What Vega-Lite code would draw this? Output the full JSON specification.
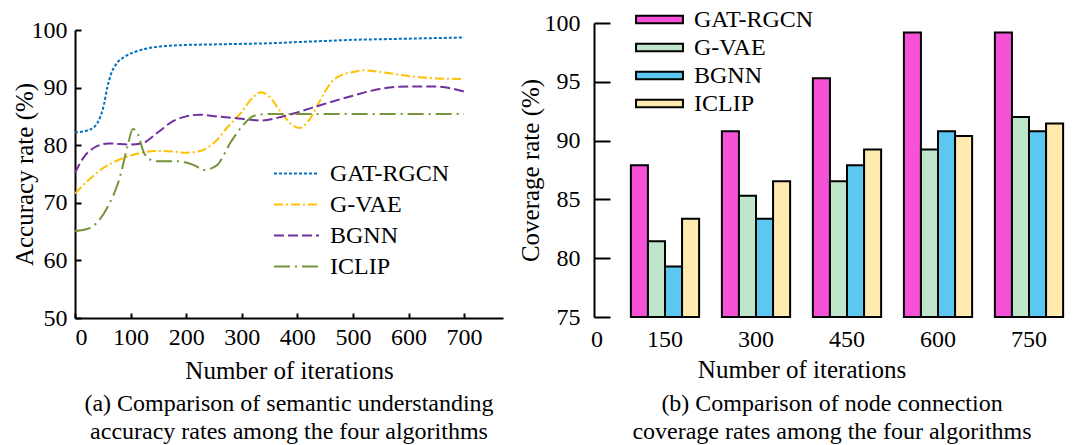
{
  "$schema": "https://vega.github.io/schema/vega-lite/v6.json",
  "padding": {"left": 12, "top": 7, "right": 0, "bottom": 0},
  "autosize": {"type": "pad"},
  "bounds": "flush",
  "spacing": 91,
  "resolve": {"legend": {"color": "independent", "strokeDash": "independent"}, "scale": {"color": "independent", "strokeDash": "independent"}},
  "datasets": {
    "lines": [
      {"alg": "GAT-RGCN", "it": 0, "v": 82.2},
      {"alg": "GAT-RGCN", "it": 20, "v": 82.5},
      {"alg": "GAT-RGCN", "it": 35, "v": 83.2},
      {"alg": "GAT-RGCN", "it": 45, "v": 84.8},
      {"alg": "GAT-RGCN", "it": 52, "v": 87.0},
      {"alg": "GAT-RGCN", "it": 58, "v": 90.0},
      {"alg": "GAT-RGCN", "it": 65, "v": 92.4},
      {"alg": "GAT-RGCN", "it": 75, "v": 94.2},
      {"alg": "GAT-RGCN", "it": 90, "v": 95.4},
      {"alg": "GAT-RGCN", "it": 105, "v": 96.1},
      {"alg": "GAT-RGCN", "it": 125, "v": 96.7},
      {"alg": "GAT-RGCN", "it": 150, "v": 97.1},
      {"alg": "GAT-RGCN", "it": 200, "v": 97.4},
      {"alg": "GAT-RGCN", "it": 250, "v": 97.5},
      {"alg": "GAT-RGCN", "it": 300, "v": 97.6},
      {"alg": "GAT-RGCN", "it": 350, "v": 97.7},
      {"alg": "GAT-RGCN", "it": 400, "v": 97.9},
      {"alg": "GAT-RGCN", "it": 450, "v": 98.1},
      {"alg": "GAT-RGCN", "it": 500, "v": 98.3},
      {"alg": "GAT-RGCN", "it": 550, "v": 98.4},
      {"alg": "GAT-RGCN", "it": 600, "v": 98.5},
      {"alg": "GAT-RGCN", "it": 650, "v": 98.6},
      {"alg": "GAT-RGCN", "it": 700, "v": 98.7},
      {"alg": "G-VAE", "it": 0, "v": 71.6},
      {"alg": "G-VAE", "it": 25, "v": 74.0},
      {"alg": "G-VAE", "it": 50, "v": 76.0},
      {"alg": "G-VAE", "it": 75, "v": 77.3},
      {"alg": "G-VAE", "it": 100, "v": 78.2},
      {"alg": "G-VAE", "it": 125, "v": 78.8},
      {"alg": "G-VAE", "it": 150, "v": 79.0},
      {"alg": "G-VAE", "it": 175, "v": 78.9},
      {"alg": "G-VAE", "it": 200, "v": 78.7},
      {"alg": "G-VAE", "it": 225, "v": 79.0},
      {"alg": "G-VAE", "it": 250, "v": 80.4},
      {"alg": "G-VAE", "it": 275, "v": 83.2},
      {"alg": "G-VAE", "it": 300, "v": 85.8},
      {"alg": "G-VAE", "it": 320, "v": 88.3},
      {"alg": "G-VAE", "it": 335, "v": 89.2},
      {"alg": "G-VAE", "it": 350, "v": 88.4},
      {"alg": "G-VAE", "it": 370, "v": 85.8},
      {"alg": "G-VAE", "it": 390, "v": 83.6},
      {"alg": "G-VAE", "it": 403, "v": 83.0},
      {"alg": "G-VAE", "it": 420, "v": 84.2},
      {"alg": "G-VAE", "it": 440, "v": 87.6},
      {"alg": "G-VAE", "it": 460, "v": 90.8},
      {"alg": "G-VAE", "it": 480, "v": 92.2},
      {"alg": "G-VAE", "it": 500, "v": 92.7},
      {"alg": "G-VAE", "it": 520, "v": 93.0},
      {"alg": "G-VAE", "it": 550, "v": 92.7},
      {"alg": "G-VAE", "it": 600, "v": 92.0},
      {"alg": "G-VAE", "it": 650, "v": 91.6},
      {"alg": "G-VAE", "it": 700, "v": 91.5},
      {"alg": "BGNN", "it": 0, "v": 75.2},
      {"alg": "BGNN", "it": 15, "v": 77.8},
      {"alg": "BGNN", "it": 35, "v": 79.6},
      {"alg": "BGNN", "it": 60, "v": 80.3},
      {"alg": "BGNN", "it": 100, "v": 80.1},
      {"alg": "BGNN", "it": 120, "v": 80.3},
      {"alg": "BGNN", "it": 150, "v": 82.3},
      {"alg": "BGNN", "it": 175, "v": 84.1},
      {"alg": "BGNN", "it": 200, "v": 85.0},
      {"alg": "BGNN", "it": 225, "v": 85.3},
      {"alg": "BGNN", "it": 255, "v": 85.0},
      {"alg": "BGNN", "it": 300, "v": 84.6},
      {"alg": "BGNN", "it": 335, "v": 84.3},
      {"alg": "BGNN", "it": 370, "v": 84.9},
      {"alg": "BGNN", "it": 400, "v": 85.7},
      {"alg": "BGNN", "it": 440, "v": 86.9},
      {"alg": "BGNN", "it": 500, "v": 88.6},
      {"alg": "BGNN", "it": 550, "v": 89.8},
      {"alg": "BGNN", "it": 600, "v": 90.2},
      {"alg": "BGNN", "it": 640, "v": 90.2},
      {"alg": "BGNN", "it": 675, "v": 89.9},
      {"alg": "BGNN", "it": 700, "v": 89.3},
      {"alg": "ICLIP", "it": 0, "v": 65.1},
      {"alg": "ICLIP", "it": 20, "v": 65.4},
      {"alg": "ICLIP", "it": 40, "v": 66.6},
      {"alg": "ICLIP", "it": 60, "v": 69.5},
      {"alg": "ICLIP", "it": 80, "v": 74.2},
      {"alg": "ICLIP", "it": 95, "v": 80.0},
      {"alg": "ICLIP", "it": 104, "v": 82.8},
      {"alg": "ICLIP", "it": 112, "v": 82.2},
      {"alg": "ICLIP", "it": 125, "v": 78.5},
      {"alg": "ICLIP", "it": 145, "v": 77.2},
      {"alg": "ICLIP", "it": 185, "v": 77.2},
      {"alg": "ICLIP", "it": 215, "v": 76.5},
      {"alg": "ICLIP", "it": 232, "v": 75.7},
      {"alg": "ICLIP", "it": 255, "v": 76.5},
      {"alg": "ICLIP", "it": 280, "v": 80.5},
      {"alg": "ICLIP", "it": 300, "v": 83.2},
      {"alg": "ICLIP", "it": 322, "v": 85.1},
      {"alg": "ICLIP", "it": 345, "v": 85.4},
      {"alg": "ICLIP", "it": 400, "v": 85.4},
      {"alg": "ICLIP", "it": 500, "v": 85.4},
      {"alg": "ICLIP", "it": 600, "v": 85.4},
      {"alg": "ICLIP", "it": 700, "v": 85.4}
    ],
    "bars": [
      {"it": "150", "alg": "GAT-RGCN", "v": 87.9},
      {"it": "150", "alg": "G-VAE", "v": 81.45},
      {"it": "150", "alg": "BGNN", "v": 79.3},
      {"it": "150", "alg": "ICLIP", "v": 83.35},
      {"it": "300", "alg": "GAT-RGCN", "v": 90.8},
      {"it": "300", "alg": "G-VAE", "v": 85.3},
      {"it": "300", "alg": "BGNN", "v": 83.35},
      {"it": "300", "alg": "ICLIP", "v": 86.55},
      {"it": "450", "alg": "GAT-RGCN", "v": 95.3},
      {"it": "450", "alg": "G-VAE", "v": 86.55},
      {"it": "450", "alg": "BGNN", "v": 87.9},
      {"it": "450", "alg": "ICLIP", "v": 89.25},
      {"it": "600", "alg": "GAT-RGCN", "v": 99.2},
      {"it": "600", "alg": "G-VAE", "v": 89.25},
      {"it": "600", "alg": "BGNN", "v": 90.8},
      {"it": "600", "alg": "ICLIP", "v": 90.4},
      {"it": "750", "alg": "GAT-RGCN", "v": 99.2},
      {"it": "750", "alg": "G-VAE", "v": 92.0},
      {"it": "750", "alg": "BGNN", "v": 90.8},
      {"it": "750", "alg": "ICLIP", "v": 91.45}
    ]
  },
  "hconcat": [
    {
      "width": 428,
      "height": 295,
      "title": {"text": ["(a) Comparison of semantic understanding", "accuracy rates among the four algorithms"], "orient": "bottom", "offset": 9, "lineHeight": 28},
      "data": {"name": "lines"},
      "mark": {"type": "line", "interpolate": "monotone", "strokeWidth": 2},
      "encoding": {
        "x": {
          "field": "it", "type": "quantitative",
          "scale": {"domain": [0, 770], "nice": false},
          "axis": {"values": [0, 100, 200, 300, 400, 500, 600, 700], "title": "Number of iterations", "tickSize": -5, "labelPadding": 12, "titlePadding": 9}
        },
        "y": {
          "field": "v", "type": "quantitative",
          "scale": {"domain": [50, 100], "range": [295, 7], "nice": false, "zero": false},
          "axis": {"values": [50, 60, 70, 80, 90, 100], "title": "Accuracy rate (%)", "tickSize": -6, "labelPadding": 14, "titlePadding": -6}
        },
        "color": {
          "field": "alg", "type": "nominal",
          "scale": {"domain": ["GAT-RGCN", "G-VAE", "BGNN", "ICLIP"], "range": ["#0070C0", "#FFC000", "#7030A0", "#77933C"]},
          "legend": {"title": null, "orient": "none", "legendX": 209, "legendY": 138, "symbolType": "M-1.96,0H1.96", "symbolSize": 529, "symbolStrokeWidth": 2, "labelOffset": 21, "rowPadding": 6, "padding": 0}
        },
        "strokeDash": {
          "field": "alg", "type": "nominal",
          "scale": {"domain": ["GAT-RGCN", "G-VAE", "BGNN", "ICLIP"], "range": [[3, 2], [9, 3, 2, 3], [10, 4], [16, 5, 2, 5]]},
          "legend": {"title": null, "orient": "none", "legendX": 209, "legendY": 138, "symbolType": "M-1.96,0H1.96", "symbolSize": 529, "symbolStrokeWidth": 2, "labelOffset": 21, "rowPadding": 6, "padding": 0}
        }
      }
    },
    {
      "width": 476,
      "height": 294,
      "title": {"text": ["(b) Comparison of node connection", "coverage rates among the four algorithms"], "orient": "bottom", "offset": 10, "lineHeight": 28},
      "layer": [
        {
          "data": {"name": "bars"},
          "mark": {"type": "bar", "stroke": "black", "strokeWidth": 2, "opacity": 1},
          "encoding": {
            "x": {
              "field": "it", "type": "ordinal",
              "scale": {"domain": ["0", "150", "300", "450", "600", "750"], "range": [-65.5, 480.5], "paddingInner": 0.25, "paddingOuter": 0.125},
              "axis": {"title": "Number of iterations", "ticks": false, "domain": false, "labelAngle": 0, "labelPadding": 10, "titlePadding": 6,
                       "labelOffset": {"condition": {"test": "datum.value === '0'", "value": 23}, "value": 0}}
            },
            "xOffset": {"field": "alg", "type": "nominal", "scale": {"domain": ["GAT-RGCN", "G-VAE", "BGNN", "ICLIP"], "paddingInner": 0, "paddingOuter": 0}},
            "y": {
              "field": "v", "type": "quantitative",
              "scale": {"domain": [75, 100], "nice": false, "zero": false},
              "axis": {"values": [75, 80, 85, 90, 95, 100], "title": "Coverage rate (%)", "tickSize": -16, "labelPadding": 30, "titlePadding": 1}
            },
            "y2": {"datum": 75},
            "color": {
              "field": "alg", "type": "nominal",
              "scale": {"domain": ["GAT-RGCN", "G-VAE", "BGNN", "ICLIP"], "range": ["#F552D8", "#BFE6CB", "#5CC8F2", "#FFEAB0"]},
              "legend": {"title": null, "orient": "none", "legendX": 53, "legendY": -16, "symbolType": "M-2.04,-0.326L2.04,-0.326L2.04,0.326L-2.04,0.326Z", "symbolSize": 529, "symbolStrokeColor": "black", "symbolStrokeWidth": 2, "symbolOpacity": 1, "labelOffset": 22, "rowPadding": 3, "padding": 0}
            }
          }
        },
        {
          "mark": {"type": "rule", "stroke": "black", "strokeWidth": 2},
          "encoding": {"y": {"datum": 75}}
        }
      ]
    }
  ],
  "config": {
    "font": "Times New Roman",
    "view": {"stroke": null},
    "axis": {"labelFont": "Times New Roman", "labelFontSize": 24, "titleFont": "Times New Roman", "titleFontSize": 25, "titleFontWeight": "normal", "labelColor": "black", "titleColor": "black", "domainColor": "black", "domainWidth": 2, "tickColor": "black", "tickWidth": 2, "grid": false},
    "legend": {"labelFont": "Times New Roman", "labelFontSize": 24, "labelColor": "black"},
    "title": {"font": "Times New Roman", "fontSize": 24, "fontWeight": "normal", "color": "black"}
  }
}
